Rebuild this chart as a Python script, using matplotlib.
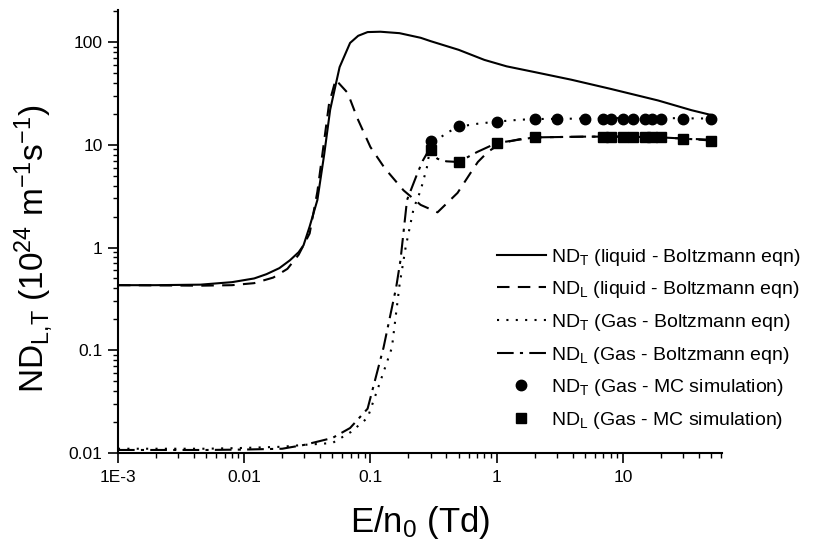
import matplotlib
matplotlib.use("Agg")
import matplotlib.pyplot as plt
from matplotlib.ticker import FixedLocator, FixedFormatter, LogLocator, NullFormatter

plt.rcParams["font.family"] = ["Liberation Sans", "DejaVu Sans"]
plt.rcParams["mathtext.default"] = "regular"

# liquid, Boltzmann equation
liq_t_x = [1e-3, 0.002, 0.0045, 0.008, 0.012, 0.015, 0.019, 0.023, 0.027, 0.0295,
           0.033, 0.038, 0.043, 0.048, 0.057, 0.069, 0.08, 0.095, 0.12, 0.17, 0.25,
           0.3, 0.5, 0.8, 1.2, 2, 3.9, 8, 19, 35, 50]
liq_t_y = [0.43, 0.43, 0.435, 0.46, 0.5, 0.55, 0.63, 0.75, 0.9, 1.05,
           1.6, 2.9, 8, 22, 57, 98, 115, 125, 126, 122, 110,
           102, 84, 67, 58, 51, 43, 35, 27, 21.7, 19.5]

liq_l_x = [1e-3, 0.002, 0.0045, 0.008, 0.012, 0.017, 0.022, 0.027, 0.033, 0.038,
           0.042, 0.047, 0.053, 0.066, 0.079, 0.1, 0.13, 0.183, 0.25, 0.34, 0.49,
           0.62, 0.71, 0.85, 1.07, 1.5, 2, 5, 10, 20, 30, 50]
liq_l_y = [0.43, 0.428, 0.425, 0.43, 0.45, 0.51, 0.62, 0.85, 1.37, 3.5,
           8.8, 25, 43, 32, 18, 9.5, 5.9, 3.6, 2.6, 2.2, 3.4,
           5.3, 6.8, 8.5, 10.3, 11.3, 11.8, 12, 12, 11.8, 11.5, 11.2]

# gas, Boltzmann equation
gas_t_x = [1e-3, 0.005, 0.01, 0.02, 0.03, 0.05, 0.07, 0.095, 0.12, 0.148, 0.17,
           0.19, 0.22, 0.25, 0.28, 0.3, 0.4, 0.5, 0.7, 1, 1.5, 2, 5, 10, 20, 50]
gas_t_y = [0.011, 0.011, 0.0112, 0.0115, 0.012, 0.0125, 0.016, 0.022, 0.05, 0.106, 0.43,
           1.0, 2.4, 3.6, 6, 10, 13, 15, 16, 16.8, 17.5, 17.8, 18, 18.2, 18.2, 18]

gas_l_x = [1e-3, 0.005, 0.01, 0.02, 0.03, 0.05, 0.069, 0.095, 0.127, 0.16, 0.173,
           0.195, 0.236, 0.26, 0.28, 0.3, 0.34, 0.4, 0.5, 0.7, 1, 2, 5, 10, 20, 30, 50]
gas_l_y = [0.0107, 0.0107, 0.0108, 0.011, 0.012, 0.014, 0.0175, 0.027, 0.106, 0.41, 0.75,
           2.9, 5.3, 7.0, 8.2, 8.8, 7.3, 6.9, 6.8, 8.5, 10.4, 11.8, 12, 12, 11.8, 11.5, 11]

# gas, Monte Carlo simulation
mc_t_x = [0.3, 0.5, 1, 2, 3, 5, 7, 8, 10, 12, 15, 17, 20, 30, 50]
mc_t_y = [10.8, 15.2, 16.6, 17.8, 18, 18, 18, 18, 18, 18, 18, 18, 18, 18, 18]
mc_l_x = [0.3, 0.5, 1, 2, 7, 8, 10, 12, 15, 17, 20, 30, 50]
mc_l_y = [8.8, 6.8, 10.4, 11.8, 12, 12, 12, 12, 12, 11.8, 11.8, 11.5, 11.0]

x_ticks = [1e-3, 0.01, 0.1, 1, 10]
x_tick_labels = ["1E-3", "0.01", "0.1", "1", "10"]
y_ticks = [0.01, 0.1, 1, 10, 100]
y_tick_labels = ["0.01", "0.1", "1", "10", "100"]

fig = plt.figure(figsize=(8.17, 5.44), dpi=100)
ax = fig.add_axes([0.1444, 0.1673, 0.7393, 0.8143])

lw = 1.5
ax.plot(liq_t_x, liq_t_y, color="black", lw=lw, ls="-",
        label="ND$_T$ (liquid - Boltzmann eqn)")
ax.plot(liq_l_x, liq_l_y, color="black", lw=lw, ls=(0, (6, 4)),
        label="ND$_L$ (liquid - Boltzmann eqn)")
ax.plot(gas_t_x, gas_t_y, color="black", lw=lw, ls=(0, (1, 3.5)),
        label="ND$_T$ (Gas - Boltzmann eqn)")
ax.plot(gas_l_x, gas_l_y, color="black", lw=lw, ls=(0, (8, 3, 1.5, 3)),
        label="ND$_L$ (Gas - Boltzmann eqn)")
ax.plot(mc_t_x, mc_t_y, "o", color="black", ms=7.5, ls="none",
        label="ND$_T$ (Gas - MC simulation)")
ax.plot(mc_l_x, mc_l_y, "s", color="black", ms=7, ls="none",
        label="ND$_L$ (Gas - MC simulation)")

ax.set_xscale("log")
ax.set_yscale("log")
ax.set_xlim(1e-3, 61)
ax.set_ylim(0.01, 205)

ax.xaxis.set_major_locator(FixedLocator(x_ticks))
ax.xaxis.set_major_formatter(FixedFormatter(x_tick_labels))
ax.yaxis.set_major_locator(FixedLocator(y_ticks))
ax.yaxis.set_major_formatter(FixedFormatter(y_tick_labels))
for axis in (ax.xaxis, ax.yaxis):
    axis.set_minor_locator(LogLocator(base=10, subs=range(2, 10), numticks=20))
    axis.set_minor_formatter(NullFormatter())

ax.spines["top"].set_visible(False)
ax.spines["right"].set_visible(False)
ax.spines["left"].set_linewidth(1.5)
ax.spines["bottom"].set_linewidth(1.5)
ax.tick_params(which="major", direction="out", length=7, width=1.2, labelsize=12.5)
ax.tick_params(axis="x", which="major", pad=5)
ax.tick_params(axis="y", which="major", pad=4)
ax.tick_params(which="minor", direction="out", length=3.5, width=1.0)

ax.set_xlabel("E/n$_0$ (Td)", fontsize=25, labelpad=14)
ax.set_ylabel("ND$_{L{,}T}$ (10$^{24}$ m$^{-1}$s$^{-1}$)", fontsize=24)
ax.yaxis.set_label_coords(-0.105, 0.46)

ax.legend(loc="lower right", bbox_to_anchor=(0.991, 0.19), bbox_transform=fig.transFigure,
          frameon=False, fontsize=14, handlelength=2.5, handletextpad=0.26,
          labelspacing=0.6, borderpad=0.0)

fig.savefig("out.png", dpi=100)
